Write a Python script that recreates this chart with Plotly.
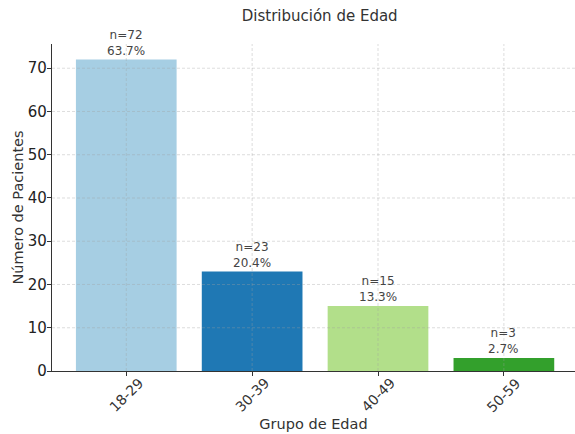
import plotly.graph_objects as go

grupos = ["18-29", "30-39", "40-49", "50-59"]
pacientes = [72, 23, 15, 3]
colores = ["#a6cee3", "#1f78b4", "#b2df8a", "#33a02c"]
y_ticks = [0, 10, 20, 30, 40, 50, 60, 70]

total = sum(pacientes)
etiquetas = [f"n={n}<br>{n / total * 100:.1f}%" for n in pacientes]
posiciones = list(range(len(grupos)))

fig = go.Figure()
fig.add_trace(go.Bar(
    x=posiciones,
    y=pacientes,
    width=0.8,
    marker=dict(color=colores, line=dict(width=0)),
    hoverinfo="skip",
))

# value labels above each bar
for i, (n, lab) in enumerate(zip(pacientes, etiquetas)):
    fig.add_annotation(
        x=i, y=n, text=lab, showarrow=False,
        yanchor="bottom", yshift=0,
        font=dict(size=12, color="#444444", family="DejaVu Sans"),
    )

# rotated category labels, centred under each tick
for i, g in zip(posiciones, grupos):
    fig.add_annotation(
        x=i, xref="x", y=0, yref="paper", text=g, showarrow=False,
        textangle=-45, xanchor="center", yanchor="middle", yshift=-24,
        font=dict(size=14, color="#333333", family="DejaVu Sans"),
    )

# dashed grid drawn over the bars
grid_line = dict(color="rgba(160,160,160,0.45)", width=0.8, dash="3px,2px")
for i in posiciones:
    fig.add_shape(type="line", xref="x", yref="paper", x0=i, x1=i, y0=0, y1=1,
                  line=grid_line, layer="above")
for t in y_ticks[1:]:
    fig.add_shape(type="line", xref="paper", yref="y", x0=0, x1=1, y0=t, y1=t,
                  line=grid_line, layer="above")

fig.update_layout(
    width=575, height=434,
    margin=dict(l=52, r=0, t=44, b=63),
    paper_bgcolor="white", plot_bgcolor="white",
    font=dict(family="DejaVu Sans", color="#222222"),
    showlegend=False,
    title=dict(text="Distribución de Edad", x=0.556, xanchor="center",
               y=0.963, yanchor="middle",
               font=dict(size=15, color="#333333")),
    xaxis=dict(
        range=[-0.59, 3.565],
        tickmode="array", tickvals=posiciones, ticktext=["" for _ in grupos],
        ticks="outside", ticklen=4, tickcolor="#333333",
        showline=True, linecolor="#333333", linewidth=1.2,
        showgrid=False, zeroline=False,
        title=dict(text="Grupo de Edad", font=dict(size=14.5, color="#333333"), standoff=41),
    ),
    yaxis=dict(
        range=[0, 75.6],
        tickmode="array", tickvals=y_ticks,
        tickfont=dict(size=15, color="#222222"),
        ticks="outside", ticklen=4, tickcolor="#333333",
        ticklabelstandoff=-3,
        showline=True, linecolor="#333333", linewidth=1.2,
        showgrid=False, zeroline=False,
        title=dict(text="Número de Pacientes", font=dict(size=14.5, color="#333333"), standoff=0),
    ),
)

fig.write_html("out.html")
